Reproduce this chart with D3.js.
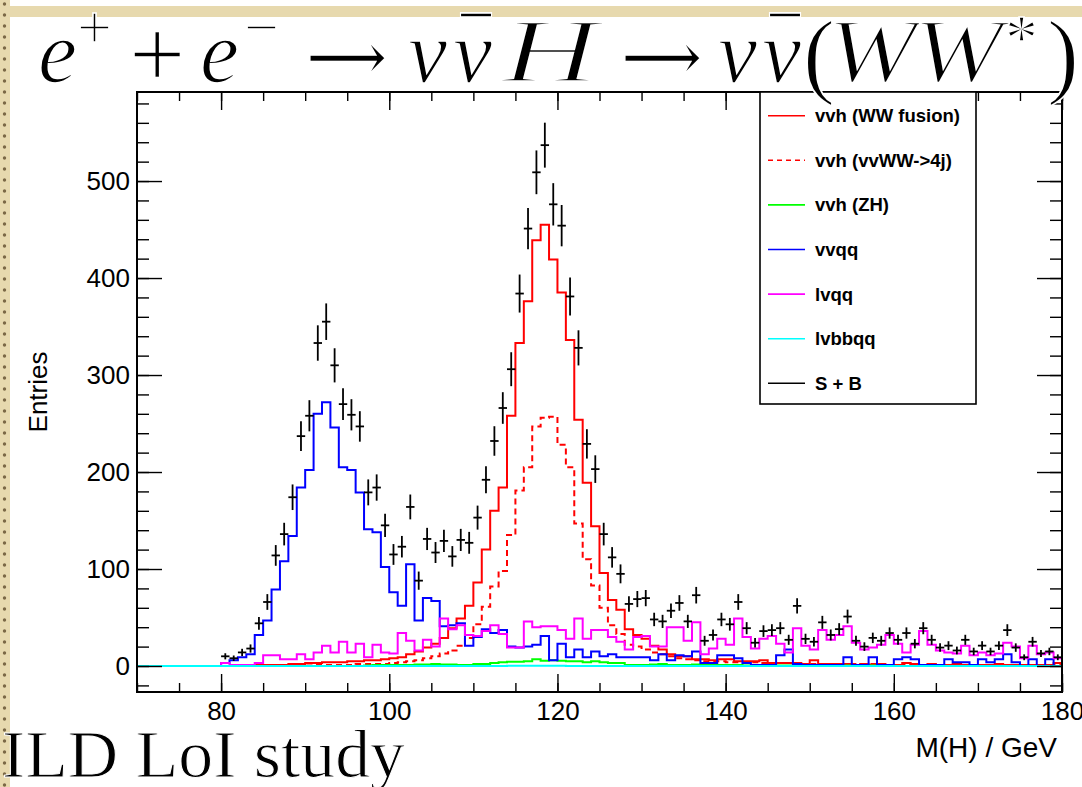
<!DOCTYPE html>
<html>
<head>
<meta charset="utf-8">
<script src="https://cdn.jsdelivr.net/npm/d3@7"></script>
<style>
  body { margin: 0; background: #fff; }
  svg { display: block; }
</style>
</head>
<body>
<svg id="chart" width="1082" height="787"></svg>
<script>
// ILD LoI: e+e- -> vvH -> vv(WW*) reconstructed Higgs mass, 1 GeV bins

// bins start at 80 GeV, one value per 1 GeV bin up to 180
var binStart = 80;

// S + B pseudo-data (black points)
var sumSB = [10, 8, 14, 18, 44, 66, 114, 136, 174, 237,
  258, 333, 355, 310, 270, 259, 247, 179, 184, 145,
  115, 123, 164, 88, 131, 117, 129, 113, 130, 127,
  153, 192, 232, 266, 306, 384, 451, 509, 537, 476,
  454, 381, 328, 229, 203, 136, 112, 95, 64, 69,
  70, 48, 46, 57, 65, 46, 73, 26, 32, 48,
  43, 66, 39, 24, 36, 37, 39, 27, 62, 28,
  25, 45, 32, 38, 51, 26, 20, 29, 26, 34,
  27, 34, 23, 39, 27, 19, 21, 16, 27, 15,
  21, 15, 21, 37, 19, 9, 25, 13, 15, 9];

// vvh (WW fusion)
var vvhFusion = [0, 0, 0.5, 0.5, 1, 1, 1, 1, 2, 2,
  3, 3, 4, 4, 4, 5, 5, 6, 6, 7,
  8, 9, 12, 15, 19, 23, 29, 39, 49, 62,
  86, 120, 160, 184, 258, 333, 376, 439, 455, 419,
  385, 336, 254, 189, 144, 96, 68, 58, 38, 32,
  28, 21, 17, 12, 10, 10, 7, 7, 6, 7,
  7, 5, 5, 5, 6, 3, 3, 3, 3, 2,
  6, 2, 2, 2, 2, 1, 2, 1, 2, 1,
  1, 3, 2, 1, 2, 1, 1, 2, 1, 1,
  1, 1, 2, 1, 1, 1, 1, 1, 1, 3];

// vvh (vvWW->4j)
var vvh4j = [0, 0, 0, 0, 0, 0, 0, 0, 0, 0,
  0.5, 1, 1, 1, 1, 1, 2, 2, 2, 2,
  3, 4, 5, 6, 8, 10, 13, 16, 21, 29,
  43, 61, 82, 98, 135, 181, 205, 247, 256, 257,
  228, 205, 147, 110, 83, 60, 42, 33, 22, 20,
  17, 14, 12, 10, 8, 7, 6, 5, 5, 5,
  4, 4, 4, 4, 3, 3, 3, 3, 3, 2,
  2, 2, 2, 2, 2, 2, 2, 2, 1, 1,
  1, 1, 1, 1, 1, 1, 1, 1, 1, 1,
  1, 1, 1, 1, 1, 1, 1, 1, 1, 1];

// vvh (ZH)
var vvhZH = [0, 0, 0, 0, 0, 0, 0, 0, 0, 0,
  0, 0, 0, 0, 0, 0, 0, 0.5, 1, 1,
  1, 1, 1, 1.5, 1.5, 2, 1.5, 1.5, 1, 1,
  2, 2, 3, 4, 4.5, 4.5, 5, 7, 5.5, 6,
  5.5, 5, 5, 4, 5, 4, 3, 3, 1, 1,
  1, 1.5, 2, 1, 1, 1, 1.5, 1, 1, 1,
  1, 1, 0.5, 0.5, 1, 0.5, 0.5, 0.5, 0.5, 0.5,
  0.5, 0.5, 0.5, 0.5, 0.5, 0.5, 0.5, 0.5, 0.5, 0.5,
  0, 0, 0, 0, 0, 0, 0, 0, 0, 0,
  0, 0, 0, 0, 0, 0, 0, 0, 0, 0];

// vvqq
var vvqq = [3, 6, 9, 12, 32, 47, 79, 108, 134, 184,
  202, 260, 272, 246, 205, 202, 179, 141, 138, 102,
  76, 62, 105, 47, 70, 67, 41, 42, 44, 21,
  30, 38, 34, 37, 20, 19, 20, 22, 31, 6,
  23, 9, 17, 9, 15, 10, 12, 9, 9, 9,
  9, 6, 12, 6, 11, 10, 15, 3, 3, 11,
  11, 8, 3, 1, 1, 1, 11, 17, 2, 1,
  1, 1, 1, 1, 9, 1, 1, 9, 1, 1,
  7, 9, 7, 1, 1, 1, 7, 4, 4, 1,
  7, 4, 7, 12, 4, 0, 7, 0, 7, 0];

// lvqq
var lvqq = [3, 1, 1, 1, 3, 11, 11, 7, 7, 12,
  7, 14, 21, 14, 25, 14, 23, 9, 22, 14,
  13, 34, 26, 16, 27, 20, 49, 38, 42, 32,
  31, 36, 42, 33, 19, 19, 46, 40, 41, 41,
  37, 28, 49, 28, 37, 37, 30, 25, 17, 30,
  31, 20, 20, 40, 40, 26, 45, 12, 18, 28,
  22, 49, 30, 18, 28, 31, 23, 14, 39, 21,
  17, 37, 27, 32, 41, 24, 17, 19, 22, 32,
  23, 14, 22, 36, 22, 16, 14, 13, 21, 11,
  14, 11, 13, 24, 20, 8, 21, 12, 14, 8];

// lvbbqq
var lvbbqq = [0, 0, 0, 0, 0, 0, 0, 0, 0, 0,
  0, 0, 0, 0, 0, 0, 0, 0, 0, 0,
  0, 0, 0, 0, 0, 0, 0, 0, 0, 0,
  0, 0, 0, 0, 0.3, 0.3, 0.3, 0.3, 0.3, 0.3,
  0.3, 0, 0, 0, 0, 0, 0, 0, 0, 0,
  0, 0, 0, 0, 0, 0, 0, 0, 0, 0,
  0, 0, 0, 0, 0, 0, 0, 0, 0, 0,
  0, 0, 0, 0, 0, 0, 0, 0, 0, 0,
  0, 0, 0, 0, 0, 0, 0, 0, 0, 0,
  0, 0, 0, 0, 0, 0, 0, 0, 0, 0];

var xTickLabels = [80, 100, 120, 140, 160, 180];
var yTickLabels = [0, 100, 200, 300, 400, 500];

var legendLabels = ["vvh (WW fusion)", "vvh (vvWW->4j)", "vvh (ZH)", "vvqq", "lvqq", "lvbbqq", "S + B"];

// ---- layout
var svg = d3.select("#chart");
var frame = {left: 137, right: 1062, top: 92, bottom: 692};

var x = d3.scaleLinear().domain([70, 180]).range([frame.left, frame.right]);
var y = d3.scaleLinear().domain([-26.8, 591.8]).range([frame.bottom, frame.top]);

// parchment border of the slide
var paper = '#e7d9ae';
svg.append("rect").attr("x", 0).attr("y", 6).attr("width", 1082).attr("height", 11).attr("fill", paper);
svg.append("rect").attr("x", 0).attr("y", 0).attr("width", 10).attr("height", 787).attr("fill", paper);
svg.append("g").selectAll("circle")
  .data(d3.range(4, 787, 11))
  .enter().append("circle")
  .attr("cx", 4.5).attr("cy", function(d) { return d; })
  .attr("r", 1.7).attr("fill", "#7a6846");

// plot frame background
svg.append("rect")
  .attr("x", frame.left).attr("y", frame.top)
  .attr("width", frame.right - frame.left).attr("height", frame.bottom - frame.top)
  .attr("fill", "#fff");

// ---- histograms
function steps(vals) {
  var pts = [[70, 0], [binStart, 0]];
  vals.forEach(function(v, i) {
    pts.push([binStart + i, v]);
    pts.push([binStart + i + 1, v]);
  });
  return pts;
}

var line = d3.line()
  .x(function(d) { return x(d[0]); })
  .y(function(d) { return y(d[1]); });

var series = [
  {vals: vvhFusion, color: "#ff0000", dash: null},
  {vals: vvh4j, color: "#ff0000", dash: "6,4"},
  {vals: vvhZH, color: "#00ff00", dash: null},
  {vals: vvqq, color: "#0000ff", dash: null},
  {vals: lvqq, color: "#ff00ff", dash: null},
  {vals: lvbbqq, color: "#00ffff", dash: null}
];

var plot = svg.append("g");
series.forEach(function(s) {
  plot.append("path")
    .attr("d", line(steps(s.vals)))
    .attr("fill", "none")
    .attr("stroke", s.color)
    .attr("stroke-width", 2)
    .attr("stroke-dasharray", s.dash);
});

// S+B points with poisson errors
var pts = plot.append("g").attr("stroke", "#000").attr("stroke-width", 1.8);
sumSB.forEach(function(v, i) {
  var c = binStart + i + 0.5;
  var e = Math.sqrt(v);
  pts.append("line")
    .attr("x1", x(c)).attr("x2", x(c))
    .attr("y1", y(v - e)).attr("y2", y(v + e));
  pts.append("line")
    .attr("x1", x(c - 0.5)).attr("x2", x(c + 0.5))
    .attr("y1", y(v)).attr("y2", y(v));
});

// ---- axes (ROOT style, ticks inside on all four sides)
var axisFont = "Liberation Sans, Arial, Helvetica, sans-serif";
var xMinor = d3.range(70, 181, 5);
var yMinor = d3.range(-20, 591, 20);

function styleAxis(g) {
  g.select(".domain").remove();
  g.selectAll(".tick line").attr("stroke", "#000").attr("stroke-width", 1.4);
  g.selectAll("text").attr("font-family", axisFont).attr("font-size", 26).attr("fill", "#000");
}
// tick marks only, no labels
function ticksOnly(g) {
  styleAxis(g);
  g.selectAll("text").remove();
}

svg.append("g").attr("transform", "translate(0," + frame.bottom + ")")
  .call(d3.axisBottom(x).tickValues(xMinor).tickSize(-9)).call(ticksOnly);
svg.append("g").attr("transform", "translate(0," + frame.bottom + ")")
  .call(d3.axisBottom(x).tickValues(xTickLabels).tickSize(-18).tickPadding(10).tickFormat(d3.format("d"))).call(styleAxis);
svg.append("g").attr("transform", "translate(0," + frame.top + ")")
  .call(d3.axisTop(x).tickValues(xMinor).tickSize(-9)).call(ticksOnly);
svg.append("g").attr("transform", "translate(0," + frame.top + ")")
  .call(d3.axisTop(x).tickValues(xTickLabels).tickSize(-18)).call(ticksOnly);

svg.append("g").attr("transform", "translate(" + frame.left + ",0)")
  .call(d3.axisLeft(y).tickValues(yMinor).tickSize(-12)).call(ticksOnly);
svg.append("g").attr("transform", "translate(" + frame.left + ",0)")
  .call(d3.axisLeft(y).tickValues(yTickLabels).tickSize(-25).tickPadding(7).tickFormat(d3.format("d"))).call(styleAxis);
svg.append("g").attr("transform", "translate(" + frame.right + ",0)")
  .call(d3.axisRight(y).tickValues(yMinor).tickSize(-12)).call(ticksOnly);
svg.append("g").attr("transform", "translate(" + frame.right + ",0)")
  .call(d3.axisRight(y).tickValues(yTickLabels).tickSize(-25)).call(ticksOnly);

svg.append("rect")
  .attr("x", frame.left).attr("y", frame.top)
  .attr("width", frame.right - frame.left).attr("height", frame.bottom - frame.top)
  .attr("fill", "none").attr("stroke", "#000").attr("stroke-width", 2);

// axis titles
svg.append("text")
  .attr("transform", "translate(47,392) rotate(-90)")
  .attr("text-anchor", "middle")
  .attr("font-family", axisFont).attr("font-size", 26)
  .text("Entries");

svg.append("text")
  .attr("x", 1057).attr("y", 757)
  .attr("text-anchor", "end")
  .attr("font-family", axisFont).attr("font-size", 28)
  .text("M(H) / GeV");

// ---- legend
var leg = svg.append("g");
leg.append("rect")
  .attr("x", 760).attr("y", 92).attr("width", 216).attr("height", 312)
  .attr("fill", "#fff").attr("stroke", "#000").attr("stroke-width", 1.6);

var legendStyle = [
  {color: "#ff0000", dash: null}, {color: "#ff0000", dash: "5,4"}, {color: "#00ff00", dash: null},
  {color: "#0000ff", dash: null}, {color: "#ff00ff", dash: null}, {color: "#00ffff", dash: null},
  {color: "#000000", dash: null}
];
legendLabels.forEach(function(lab, i) {
  var ly = 115.7 + i * 44.6;
  leg.append("line")
    .attr("x1", 768).attr("x2", 805).attr("y1", ly).attr("y2", ly)
    .attr("stroke", legendStyle[i].color).attr("stroke-width", 1.6)
    .attr("stroke-dasharray", legendStyle[i].dash);
  leg.append("text")
    .attr("x", 815).attr("y", ly + 6.5)
    .attr("font-family", axisFont).attr("font-weight", "bold").attr("font-size", 18.5)
    .text(lab);
});

// ---- title and caption (thin math look: white stroke eats into the glyph edges)
var serif = "Liberation Serif, DejaVu Serif, serif";
var title = [
  {t: "e", x: 38, y: 82, fs: 88, it: true},
  {t: "+", x: 77, y: 48, fs: 62, it: false},
  {t: "+", x: 129, y: 88, fs: 100, it: false},
  {t: "e", x: 200, y: 82, fs: 88, it: true},
  {t: "\u2212", x: 244, y: 48, fs: 62, it: false},
  {t: "\u2192", x: 303, y: 92, fs: 104, it: false, f: "DejaVu Serif, serif", thin: 3.2},
  {t: "\u03bd", x: 408, y: 82, fs: 88, it: true},
  {t: "\u03bd", x: 453, y: 82, fs: 88, it: true},
  {t: "\u00af", x: 461, y: 80, fs: 88, it: false, w: 30},
  {t: "H", x: 502, y: 82, fs: 90, it: true, w: 96, thin: 2.4},
  {t: "\u2192", x: 618, y: 92, fs: 104, it: false, f: "DejaVu Serif, serif", thin: 3.2},
  {t: "\u03bd", x: 718, y: 82, fs: 88, it: true},
  {t: "\u03bd", x: 762, y: 82, fs: 88, it: true},
  {t: "\u00af", x: 770, y: 80, fs: 88, it: false, w: 30},
  {t: "(", x: 803, y: 86, fs: 96, it: false},
  {t: "W", x: 827, y: 82, fs: 90, it: true, w: 90, thin: 2.4},
  {t: "W", x: 913, y: 82, fs: 90, it: true, w: 90, thin: 2.4},
  {t: "*", x: 1005, y: 60, fs: 66, it: false},
  {t: ")", x: 1047, y: 86, fs: 96, it: false}
];
title.forEach(function(p) {
  var t = svg.append("text")
    .attr("x", p.x).attr("y", p.y)
    .attr("font-family", p.f || serif).attr("font-size", p.fs)
    .attr("font-style", p.it ? "italic" : "normal")
    .attr("stroke", "#fff").attr("stroke-width", p.thin || 1.6)
    .text(p.t);
  if (p.w) t.attr("textLength", p.w).attr("lengthAdjust", "spacingAndGlyphs");
});

svg.append("text")
  .attr("x", 2).attr("y", 777)
  .attr("font-family", serif).attr("font-size", 68)
  .attr("stroke", "#fff").attr("stroke-width", 1)
  .attr("textLength", 403).attr("lengthAdjust", "spacingAndGlyphs")
  .text("ILD LoI study");
</script>
</body>
</html>
